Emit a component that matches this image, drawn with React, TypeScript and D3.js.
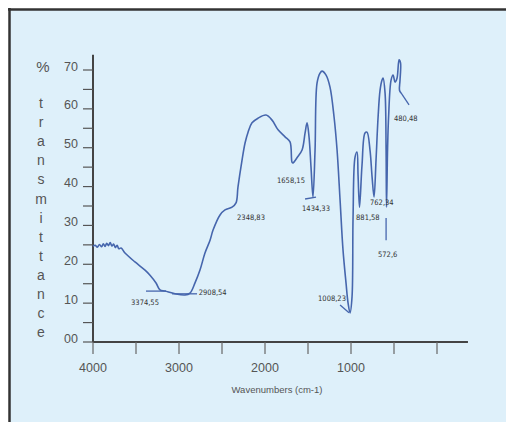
import { scaleLinear, line, curveCatmullRom, range } from "d3"

// spectrum: wavenumber (cm-1) and % transmittance
const wavenumbers = [
  4000, 3975, 3950, 3925, 3900, 3880, 3860, 3840, 3820, 3800, 3780, 3760, 3740, 3720, 3700,
  3674, 3628, 3512, 3395, 3337, 3267, 3221, 3163, 3046, 2930, 2872, 2814, 2756, 2698, 2639,
  2604, 2523, 2465, 2383, 2337, 2314, 2267, 2232, 2197, 2151, 2081, 1988, 1918, 1848, 1767,
  1709, 1686, 1674, 1628, 1569, 1534, 1511, 1488, 1465, 1442, 1418, 1395, 1360, 1337, 1290,
  1244, 1197, 1162, 1127, 1093, 1058, 1034, 1011, 988, 976, 953, 930, 918, 901, 872, 837,
  814, 779, 755, 732, 709, 685, 662, 639, 627, 604, 592, 587, 575, 563, 534, 511, 488, 465,
  441, 424, 430, 436, 418,
]
const transmittance = [
  24.6, 24.9, 24.4, 25.1, 24.5, 25.3, 24.6, 25.4, 24.8, 25.6, 24.7, 25.2, 24.3, 24.9, 24.0,
  24.2, 22.9, 20.6, 18.5, 17.2, 15.2, 13.4, 13.1, 12.4, 12.1, 12.6, 15.2, 18.5, 22.9, 26.2,
  28.8, 32.7, 34.0, 34.7, 35.8, 39.9, 46.8, 51.2, 54.0, 56.4, 57.6, 58.4, 57.1, 54.6, 52.8,
  51.5, 46.3, 46.1, 47.4, 49.4, 53.8, 56.4, 52.8, 45.0, 37.3, 49.4, 66.6, 69.2, 69.7, 68.7,
  65.6, 57.9, 49.4, 36.5, 23.7, 15.2, 10.0, 7.5, 11.6, 32.2, 47.6, 48.9, 43.0, 34.7, 45.5, 53.8,
  54.0, 49.4, 42.5, 37.3, 46.8, 57.9, 64.8, 67.4, 67.9, 64.1, 49.4, 34.7, 49.4, 57.9, 67.4, 68.7,
  66.9, 67.9, 72.6, 71.8, 67.4, 64.8, 64.1,
]

const xTickValues = [4000, 3500, 3000, 2500, 2000, 1500, 1000, 500, 0]
const xTickLabels = ["4000", "", "3000", "", "2000", "", "1000", "", ""]
const yTickValues = [0, 5, 10, 15, 20, 25, 30, 35, 40, 45, 50, 55, 60, 65, 70]
const yTickLabels = ["00", "", "10", "", "20", "", "30", "", "40", "", "50", "", "60", "", "70"]
const yTitleLetters = "transmittance".split("")

// peak labels: text anchor (wavenumber, %T) and optional leader line
const peakLabels = ["3374,55", "2908,54", "2348,83", "1658,15", "1434,33", "1008,23", "881,58", "762,34", "572,6", "480,48"]
const peakTextW = [3395, 2770, 2325, 1860, 1569, 1383, 941, 779, 686, 500]
const peakTextT = [9.5, 12.0, 31.4, 40.9, 33.7, 10.6, 31.4, 35.3, 21.9, 56.9]
const peakAnchor = ["middle", "start", "start", "start", "start", "start", "start", "start", "start", "start"]
const leaderW = [[3384, 3151], [3081, 2790], null, null, [1534, 1407], [1127, 1023], null, null, [592, 592], [418, 325]]
const leaderT = [[13.1, 13.1], [12.4, 12.4], null, null, [36.8, 37.3], [9.5, 7.5], null, null, [31.9, 26.2], [64.1, 61.0]]

const W = 506
const H = 422
const INK = "#555"
const CURVE = "#4666ad"

export default function App() {
  const x = scaleLinear().domain([4000, 0]).range([93, 437])
  const y = scaleLinear().domain([0, 70]).range([342, 70])

  const pts = wavenumbers.map((w, i) => [w, transmittance[i]] as [number, number])
  const path = line<[number, number]>()
    .x((d) => x(d[0]))
    .y((d) => y(d[1]))
    .curve(curveCatmullRom.alpha(0.5))(pts)

  return (
    <svg
      width={W}
      height={H}
      viewBox={`0 0 ${W} ${H}`}
      style={{ position: "absolute", left: 0, top: 0, background: "#fff" }}
      fontFamily="'Liberation Sans', Arial, sans-serif"
    >
      {/* panel */}
      <rect x={9} y={9} width={W} height={H} fill="#def0fa" />
      <line x1={9.5} y1={8} x2={9.5} y2={H} stroke="#333" strokeWidth={2.5} />
      <line x1={8} y1={9.5} x2={W} y2={9.5} stroke="#333" strokeWidth={2.5} />

      {/* y axis */}
      <line x1={x(4000)} x2={x(4000)} y1={y(0)} y2={y(73.9)} stroke="#444" strokeWidth={2} />
      {yTickValues.map((v, i) => (
        <g key={v}>
          <line x1={x(4000) - 10} x2={x(4000)} y1={y(v)} y2={y(v)} stroke="#555" strokeWidth={1.2} />
          <text x={78} y={y(v) + 0.5} fontSize={12.5} fill={INK} textAnchor="end">
            {yTickLabels[i]}
          </text>
        </g>
      ))}
      <text x={43} y={72} fontSize={15} fill={INK} textAnchor="middle">%</text>
      {yTitleLetters.map((c, i) => (
        <text key={i} x={41} y={108 + i * 19.1} fontSize={14} fill={INK} textAnchor="middle">
          {c}
        </text>
      ))}

      {/* x axis */}
      <line x1={x(4000)} x2={x(-360)} y1={y(0)} y2={y(0)} stroke="#444" strokeWidth={2} />
      {xTickValues.map((v, i) => (
        <g key={v}>
          <line x1={x(v)} x2={x(v)} y1={y(0)} y2={y(0) + 12} stroke="#666" strokeWidth={1.2} />
          <text x={x(v)} y={372} fontSize={12.5} fill={INK} textAnchor="middle">
            {xTickLabels[i]}
          </text>
        </g>
      ))}
      <text x={277} y={393} fontSize={9.5} fill={INK} textAnchor="middle">
        Wavenumbers (cm-1)
      </text>

      {/* spectrum */}
      <path d={path ?? ""} fill="none" stroke={CURVE} strokeWidth={1.6} strokeLinejoin="round" />

      {peakLabels.map((lab, i) => {
        const lw = leaderW[i]
        const lt = leaderT[i]
        return (
          <g key={lab}>
            {lw && lt && (
              <line x1={x(lw[0])} y1={y(lt[0])} x2={x(lw[1])} y2={y(lt[1])} stroke={CURVE} strokeWidth={1.3} />
            )}
            <text
              x={x(peakTextW[i])}
              y={y(peakTextT[i])}
              fontSize={7.5}
              fill="#333"
              textAnchor={peakAnchor[i] as any}
              fontFamily="'DejaVu Sans Condensed', 'Liberation Sans Narrow', sans-serif"
            >
              {lab}
            </text>
          </g>
        )
      })}
    </svg>
  )
}
